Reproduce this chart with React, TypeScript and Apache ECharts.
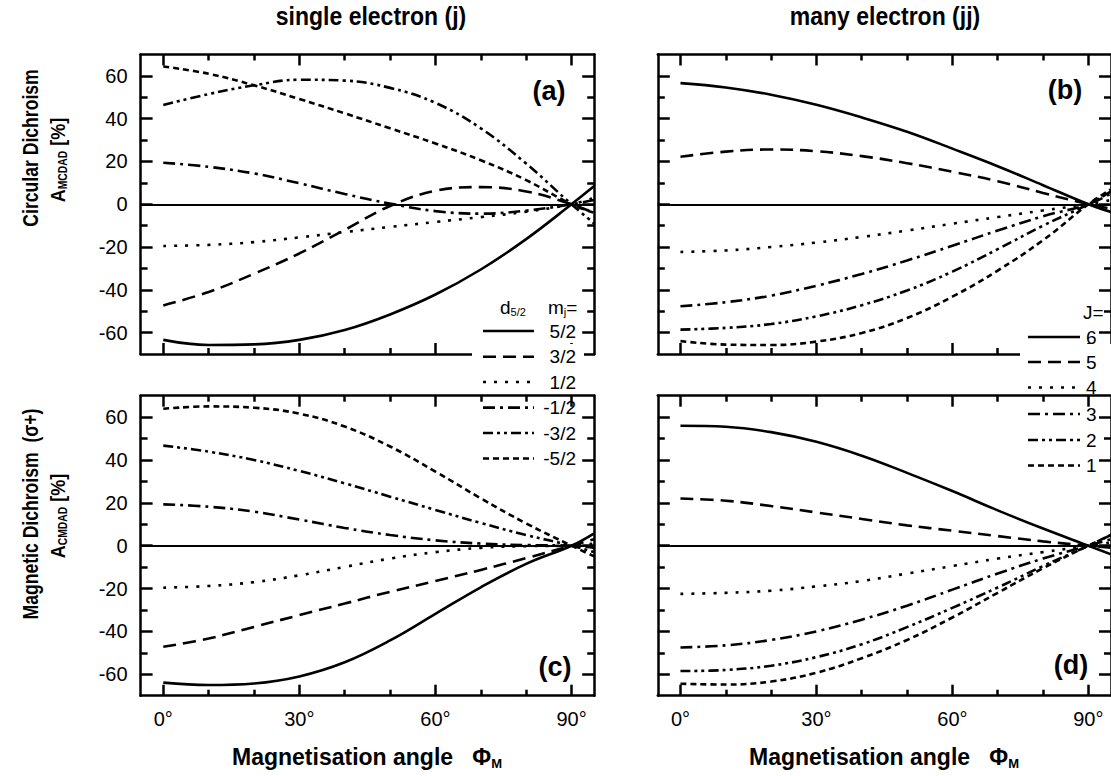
import React, { useEffect, useRef } from "react";
import * as echarts from "echarts";

const FONT = "'Liberation Sans', Arial, Helvetica, sans-serif";

// ---------- data ----------
const angles = [0, 10, 20, 30, 40, 50, 60, 70, 80, 90, 95];
const xMajorTicks = [0, 30, 60, 90];
const xMinorTicks = [10, 20, 40, 50, 70, 80];
const yMajorTicks = [-60, -40, -20, 0, 20, 40, 60];
const yMinorTicks = [-50, -30, -10, 10, 30, 50];

const columnTitles = ["single electron (j)", "many electron (jj)"];
const panelNames = ["(a)", "(b)", "(c)", "(d)"];
const mjLabels = ["5/2", "3/2", "1/2", "-1/2", "-3/2", "-5/2"];
const jLabels = ["6", "5", "4", "3", "2", "1"];

// (a) circular dichroism, single electron, m_j = 5/2 ... -5/2
const a_p52 = [-63.4, -65.8, -65.5, -63.4, -58.8, -51.5, -42.2, -30.5, -16.3, 0, 8.5];
const a_p32 = [-47.3, -41, -32.5, -23, -12, -0.8, 6.3, 8, 6, 0, -4];
const a_p12 = [-19.5, -19, -17.7, -15.5, -13, -10.6, -8.3, -6, -3.5, 0, 3];
const a_m12 = [19.4, 17.5, 14.4, 9.8, 4.8, 0.3, -3.2, -4.4, -3, 0, 2];
const a_m32 = [46.4, 51.5, 55.6, 58.2, 57.8, 54.4, 47.4, 35.5, 19, 0, -9];
const a_m52 = [64.4, 61, 55.6, 49.2, 42.5, 35.5, 28.4, 20.6, 11.3, 0, -4];

// (b) circular dichroism, many electron, J = 6 ... 1
const b_j6 = [56.6, 54.6, 51.2, 46.5, 40.6, 33.9, 26, 17.8, 8.9, 0, -3.6];
const b_j5 = [22.2, 24.6, 25.6, 24.8, 22.5, 19.2, 15.2, 10.8, 5.3, 0, -2];
const b_j4 = [-22.3, -21.6, -20, -17.9, -15.3, -12.3, -9.1, -6, -2.9, 0, 2];
const b_j3 = [-47.7, -45.8, -42.7, -38.1, -32.6, -26.3, -19.4, -12.3, -5.6, 0, 5];
const b_j2 = [-58.6, -57.8, -56, -52.4, -47.2, -40.3, -31.5, -21, -10, 0, 6];
const b_j1 = [-64, -65.6, -65.8, -64.2, -60.2, -53.2, -43.2, -31, -16.8, 0, 7];

// (c) magnetic dichroism, single electron
const c_p52 = [-63.9, -65, -64.3, -61, -54.4, -44.2, -31.8, -19.4, -8.5, 0, 5.8];
const c_p32 = [-47.2, -43.3, -37.9, -32.4, -27, -21.5, -16.5, -11.3, -5.8, 0, 3];
const c_p12 = [-19.6, -18.8, -17, -13.8, -9.9, -6, -3, -1, -0.2, 0, 1];
const c_m12 = [19.3, 18.2, 15.9, 12.2, 8.3, 5, 2.5, 1, 0.3, 0, -1];
const c_m32 = [46.7, 43.9, 40, 34.9, 29.1, 22.9, 16.7, 10.6, 5, 0, -3];
const c_m52 = [63.9, 65, 64.4, 61.6, 55.6, 46.3, 34.6, 22.1, 10.4, 0, -5];

// (d) magnetic dichroism, many electron
const d_j6 = [56, 55.5, 53, 48.5, 42, 34, 25.5, 16.5, 8, 0, -4];
const d_j5 = [22, 21, 18.5, 15.5, 12.5, 9.5, 7, 4.5, 2, 0, -1];
const d_j4 = [-22.5, -22, -21, -19, -16.5, -13, -9.5, -6, -3, 0, 1.5];
const d_j3 = [-47.5, -46.5, -44, -40, -34.5, -28, -20.5, -13, -6, 0, 3];
const d_j2 = [-58.5, -58, -56, -52, -46, -38, -29, -19.5, -9.5, 0, 5];
const d_j1 = [-64.4, -64.8, -63.4, -59.3, -52.5, -44, -33.5, -22, -10.5, 0, 5];

const panelCurves = [
  [a_p52, a_p32, a_p12, a_m12, a_m32, a_m52],
  [b_j6, b_j5, b_j4, b_j3, b_j2, b_j1],
  [c_p52, c_p32, c_p12, c_m12, c_m32, c_m52],
  [d_j6, d_j5, d_j4, d_j3, d_j2, d_j1],
];

// ---------- styles ----------
const dashes: any[] = ["solid", [13, 7], [3, 8], [12, 5, 3, 5], [10, 4, 3, 4, 3, 4], [6, 4]];
const AX = { color: "#000", width: 2.5 };

const grids = [
  { left: 140.6, top: 54.5, width: 453.6, height: 299.5 },
  { left: 657.8, top: 54.5, width: 453.8, height: 299.5 },
  { left: 140.6, top: 395.7, width: 453.6, height: 300 },
  { left: 657.8, top: 395.7, width: 453.8, height: 300 },
];

function xAxesFor(gi: number, labels: boolean) {
  const base = { gridIndex: gi, type: "value", min: -5, max: 95, splitLine: { show: false } };
  const major = (pos: string, line: boolean, lab: boolean) => ({
    ...base,
    position: pos,
    axisLine: { show: line, onZero: false, lineStyle: AX },
    axisTick: { show: true, inside: true, length: 11, customValues: xMajorTicks, lineStyle: AX },
    axisLabel: {
      show: lab,
      customValues: xMajorTicks,
      formatter: (v: number) => v + "°",
      color: "#000",
      fontSize: 20,
      fontFamily: FONT,
      margin: 13,
    },
  });
  const minor = (pos: string) => ({
    ...base,
    position: pos,
    axisLine: { show: false, onZero: false },
    axisTick: { show: true, inside: true, length: 6, customValues: xMinorTicks, lineStyle: AX },
    axisLabel: { show: false },
  });
  return [major("bottom", true, labels), minor("bottom"), major("top", true, false), minor("top")];
}

function yAxesFor(gi: number, labels: boolean) {
  const base = { gridIndex: gi, type: "value", min: -70, max: 70, splitLine: { show: false } };
  const major = (pos: string, lab: boolean) => ({
    ...base,
    position: pos,
    axisLine: { show: true, onZero: false, lineStyle: AX },
    axisTick: { show: true, inside: true, length: 12, customValues: yMajorTicks, lineStyle: AX },
    axisLabel: {
      show: lab,
      customValues: yMajorTicks,
      color: "#000",
      fontSize: 20,
      fontFamily: FONT,
      margin: 13,
    },
  });
  const minor = (pos: string) => ({
    ...base,
    position: pos,
    axisLine: { show: false, onZero: false },
    axisTick: { show: true, inside: true, length: 7, customValues: yMinorTicks, lineStyle: AX },
    axisLabel: { show: false },
  });
  return [major("left", labels), minor("left"), major("right", false), minor("right")];
}

function txt(x: number, y: number, text: string, size: number, o: any = {}) {
  return {
    type: "text",
    x,
    y,
    z: 60,
    silent: true,
    rotation: o.rot || 0,
    scaleX: o.sx || 1,
    style: {
      text,
      fontSize: size,
      fontFamily: FONT,
      fontWeight: o.bold ? "bold" : "normal",
      fill: "#000",
      align: o.align || "center",
      verticalAlign: "middle",
      rich: o.rich,
    },
  };
}

function richSub(size: number, subSize: number, bold: boolean, pad: number) {
  return {
    a: { fontSize: size, fontFamily: FONT, fontWeight: bold ? "bold" : "normal", fill: "#000" },
    s: { fontSize: subSize, fontFamily: FONT, fontWeight: bold ? "bold" : "normal", fill: "#000", padding: [pad, 0, 0, 0] },
  };
}

function buildOption() {
  const xAxis: any[] = [];
  const yAxis: any[] = [];
  const series: any[] = [];
  grids.forEach((g, gi) => {
    const bottomRow = gi >= 2;
    const leftCol = gi % 2 === 0;
    xAxis.push(...xAxesFor(gi, bottomRow));
    yAxis.push(...yAxesFor(gi, leftCol));
    panelCurves[gi].forEach((vals, k) => {
      series.push({
        type: "line",
        xAxisIndex: gi * 4,
        yAxisIndex: gi * 4,
        data: angles.map((a, i) => [a, vals[i]]),
        smooth: 0.4,
        symbol: "none",
        showSymbol: false,
        silent: true,
        z: 3,
        lineStyle: { color: "#000", width: 2.6, type: dashes[k] },
        markLine:
          k === 0
            ? {
                silent: true,
                symbol: ["none", "none"],
                label: { show: false },
                lineStyle: { color: "#000", width: 2, type: "solid" },
                data: [{ yAxis: 0 }],
              }
            : undefined,
      });
    });
  });

  const graphic: any[] = [];
  // column titles
  graphic.push(txt(371, 16, columnTitles[0], 25, { bold: true, sx: 0.92 }));
  graphic.push(txt(885, 16, columnTitles[1], 25, { bold: true, sx: 0.92 }));
  // x-axis titles
  [367, 884].forEach((cx) => {
    graphic.push(
      txt(cx, 757, "{a|Magnetisation angle   Φ}{s|M}", 23, { rich: richSub(23, 13, true, 12), bold: true })
    );
  });
  // y-axis titles
  graphic.push(txt(30, 148, "Circular Dichroism", 22, { bold: true, rot: Math.PI / 2, sx: 0.8 }));
  graphic.push(
    txt(57, 160, "{a|A}{s|MCDAD}{a| [%]}", 21, { bold: true, rot: Math.PI / 2, sx: 0.86, rich: richSub(21, 12, true, 11) })
  );
  graphic.push(txt(30, 514, "Magnetic Dichroism  (σ+)", 22, { bold: true, rot: Math.PI / 2, sx: 0.8 }));
  graphic.push(
    txt(57, 516, "{a|A}{s|CMDAD}{a| [%]}", 21, { bold: true, rot: Math.PI / 2, sx: 0.86, rich: richSub(21, 12, true, 11) })
  );
  // panel letters
  const letterPos = [
    [549, 91],
    [1065, 90],
    [555, 667],
    [1071, 665],
  ];
  panelNames.forEach((n, i) => graphic.push(txt(letterPos[i][0], letterPos[i][1], n, 27, { bold: true })));

  // legend occluders
  graphic.push({ type: "rect", z: 50, silent: true, shape: { x: 472, y: 344, width: 112, height: 16 }, style: { fill: "#fff" } });
  graphic.push({ type: "rect", z: 50, silent: true, shape: { x: 1020, y: 344, width: 95, height: 16 }, style: { fill: "#fff" } });

  // legend (a)
  const rowsA = [331, 356.7, 382, 407.6, 433, 458.5];
  graphic.push(txt(500, 307, "{a|d}{s|5/2}", 19, { align: "left", rich: richSub(19, 11, false, 10) }));
  graphic.push(txt(548, 307, "{a|m}{s|j}{a|=}", 19, { align: "left", rich: richSub(19, 11, false, 10) }));
  mjLabels.forEach((lab, k) => {
    const st: any = { stroke: "#000", lineWidth: 2.6 };
    if (k > 0) st.lineDash = dashes[k];
    graphic.push({ type: "line", z: 55, silent: true, shape: { x1: 483, y1: rowsA[k], x2: 534, y2: rowsA[k] }, style: st });
    graphic.push(txt(576, rowsA[k], lab, 19, { align: "right" }));
  });
  // legend (b)
  const rowsB = [337, 362, 387.5, 414, 440, 465.5];
  graphic.push(txt(1083, 312, "J=", 19, { align: "left" }));
  jLabels.forEach((lab, k) => {
    const st: any = { stroke: "#000", lineWidth: 2.6 };
    if (k > 0) st.lineDash = dashes[k];
    graphic.push({ type: "line", z: 55, silent: true, shape: { x1: 1028, y1: rowsB[k], x2: 1080, y2: rowsB[k] }, style: st });
    graphic.push(txt(1086, rowsB[k], lab, 19, { align: "left" }));
  });

  return {
    animation: false,
    backgroundColor: "#fff",
    textStyle: { fontFamily: FONT },
    grid: grids.map((g) => ({ ...g, containLabel: false })),
    xAxis,
    yAxis,
    series,
    graphic,
  };
}

export default function App() {
  const ref = useRef<HTMLDivElement>(null);
  useEffect(() => {
    document.body.style.margin = "0";
    const chart = echarts.init(ref.current!, undefined, { renderer: "svg" });
    chart.setOption(buildOption() as any);
    return () => chart.dispose();
  }, []);
  return <div ref={ref} style={{ width: 1111, height: 776 }} />;
}
